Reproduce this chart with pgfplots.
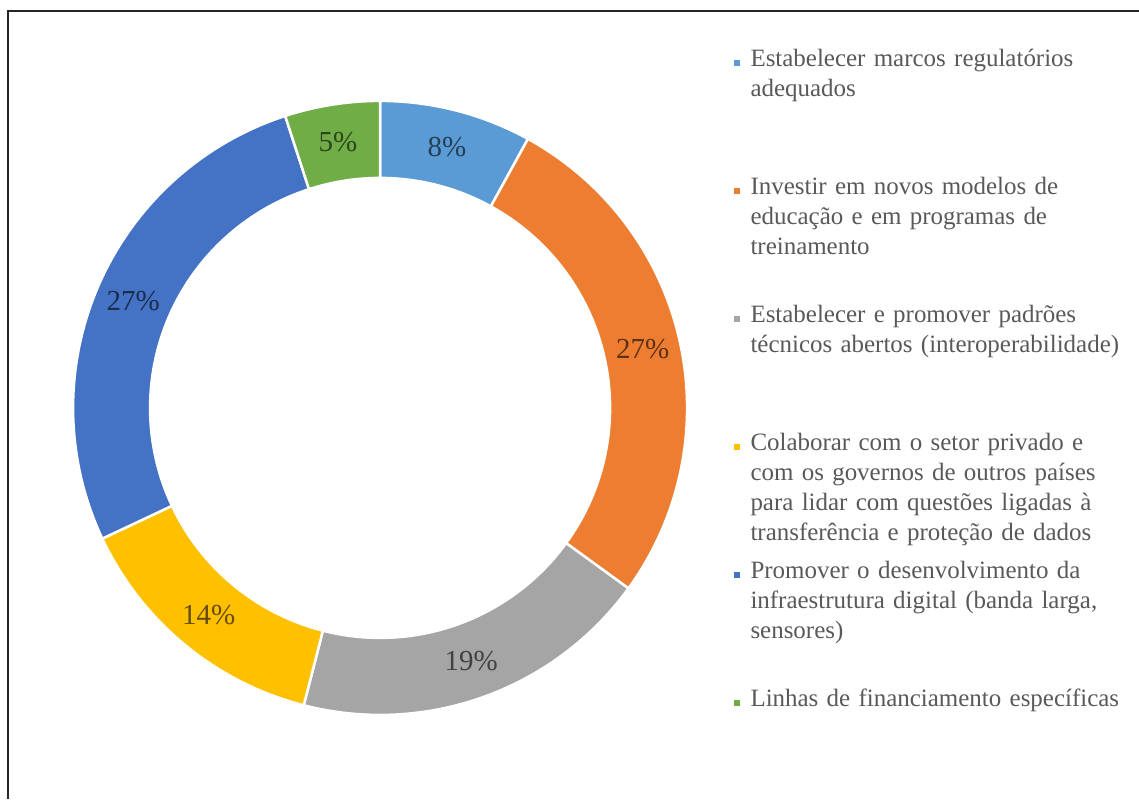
\documentclass[border=0pt]{standalone}
\usepackage{pgfplots}
\pgfplotsset{compat=1.18}
\usepackage{pgfplotstable}
\usepackage{fontspec}
\setmainfont{Liberation Serif}

\definecolor{seg1}{HTML}{5B9BD5}
\definecolor{seg2}{HTML}{ED7D31}
\definecolor{seg3}{HTML}{A5A5A5}
\definecolor{seg4}{HTML}{FFC000}
\definecolor{seg5}{HTML}{4472C4}
\definecolor{seg6}{HTML}{70AD47}
\definecolor{legtext}{HTML}{595959}

% shares in percent, clockwise from 12 o'clock
\pgfplotstableread{
share colour
8  seg1
27 seg2
19 seg3
14 seg4
27 seg5
5  seg6
}\donutdata

% ring radii (1 px of the reference = 0.02cm)
\def\Rout{6.14cm}
\def\Rin{4.60cm}
\def\Rthick{1.54cm}
\def\Rmid{5.38cm}
\newcommand{\labelfont}{\fontsize{16.5}{19}\selectfont}
\newcommand{\legfont}{\fontsize{14.2}{17.07}\selectfont}

\begin{document}
\begin{tikzpicture}
\begin{axis}[
  x=0.02cm, y=0.02cm,
  xmin=0, xmax=1139, ymin=0, ymax=799,
  hide axis, clip=false,
  anchor=origin, at={(0,0)},
]
  % frame (only top and left edges are inside the picture)
  \draw[line width=0.045cm, black!85] (axis cs:8,0) -- (axis cs:8,788) -- (axis cs:1139,788);

  \def\startang{90}
  \pgfplotsforeachungrouped \i in {0,...,5}{%
    \pgfplotstablegetelem{\i}{share}\of\donutdata
    \let\share\pgfplotsretval
    \pgfplotstablegetelem{\i}{colour}\of\donutdata
    \let\segcol\pgfplotsretval
    \pgfmathsetmacro\endang{\startang-3.6*\share}
    \pgfmathsetmacro\midang{\startang-1.8*\share}
    \edef\dodraw{%
      \noexpand\fill[\segcol, draw=white, line width=0.05cm]
        (axis cs:380,391) ++(\startang:\Rout)
        arc[start angle=\startang, end angle=\endang, radius=\Rout]
        -- ++(\endang:-\Rthick)
        arc[start angle=\endang, end angle=\startang, radius=\Rin] -- cycle;
      \noexpand\node[text=\segcol!40!black, font=\noexpand\labelfont,
        shift={(\midang:\Rmid)}] at (axis cs:380,391) {\share\noexpand\%};
    }\dodraw
    \global\let\startang\endang
  }

  % legend
  \tikzset{legtxt/.style={anchor=base west, inner sep=0pt, text width=8cm,
    align=left, text=legtext, font=\legfont}}
  \fill[seg1] (axis cs:734,733) rectangle (axis cs:740,739);
  \node[legtxt] at (axis cs:750,732) {Estabelecer marcos regulatórios\\adequados};
  \fill[seg2] (axis cs:734,605) rectangle (axis cs:740,611);
  \node[legtxt] at (axis cs:750,604) {Investir em novos modelos de\\educação e em programas de\\treinamento};
  \fill[seg3] (axis cs:734,477) rectangle (axis cs:740,483);
  \node[legtxt] at (axis cs:750,476) {Estabelecer e promover padrões\\técnicos abertos (interoperabilidade)};
  \fill[seg4] (axis cs:734,349) rectangle (axis cs:740,355);
  \node[legtxt] at (axis cs:750,348) {Colaborar com o setor privado e\\com os governos de outros países\\para lidar com questões ligadas à\\transferência e proteção de dados};
  \fill[seg5] (axis cs:734,221) rectangle (axis cs:740,227);
  \node[legtxt] at (axis cs:750,220) {Promover o desenvolvimento da\\infraestrutura digital (banda larga,\\sensores)};
  \fill[seg6] (axis cs:734,93) rectangle (axis cs:740,99);
  \node[legtxt] at (axis cs:750,92) {Linhas de financiamento específicas};
\end{axis}
\pgfresetboundingbox
\path[use as bounding box] (0,0) rectangle (22.78cm,15.98cm);
\end{tikzpicture}
\end{document}
